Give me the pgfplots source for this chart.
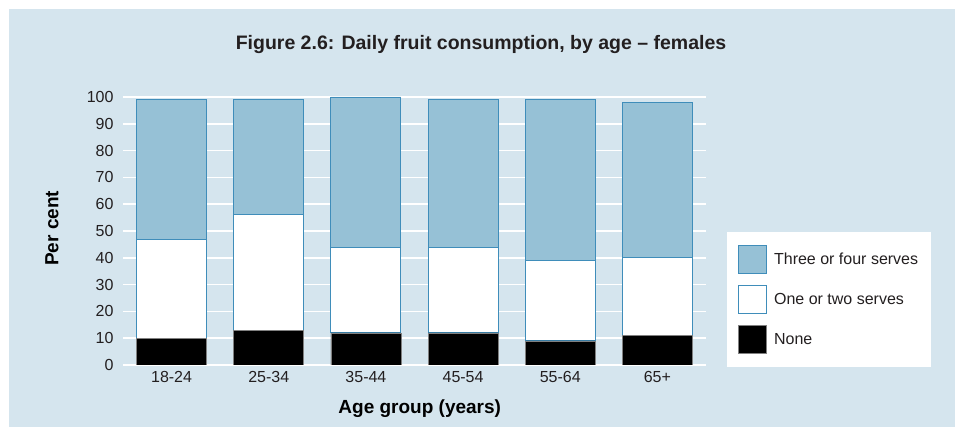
\documentclass[border=0pt]{standalone}
\usepackage{fontspec}
\setmainfont{Liberation Sans}
\usepackage{pgfplots}
\pgfplotsset{compat=1.18}
\definecolor{panel}{HTML}{D5E5EE}
\definecolor{barblue}{HTML}{96C1D6}
\definecolor{edgeblue}{HTML}{3F8DBA}
\definecolor{txt}{HTML}{231F20}
\pgfplotstableread{
x none onetwo threefour
0 10 37 52
1 13 43 43
2 12 32 56
3 12 32 55
4 9 30 60
5 11 29 58
}\datatable
\begin{document}
\begin{tikzpicture}[x=1pt,y=1pt]
\fill[panel] (9,0) rectangle (955,418);
\path[use as bounding box] (0,0) rectangle (955,427);
\node[font=\bfseries\fontsize{19.5}{22}\selectfont, text=txt] at (481,382) {Figure 2.6: Daily fruit consumption, by age – females};
\begin{axis}[
  at={(123pt,62pt)}, anchor=south west,
  width=583pt, height=268pt, scale only axis,
  ybar stacked, bar width=0.72,
  xmin=-0.5, xmax=5.5, ymin=0, ymax=100,
  xtick=data, xticklabels={18-24,25-34,35-44,45-54,55-64,65+},
  ytick={0,10,...,100},
  axis line style={draw=none},
  major tick length=0pt,
  ymajorgrids, grid style={white, line width=1.6pt},
  /pgf/number format/assume math mode=true,
  tick label style={font=\fontsize{16}{19}\selectfont, text=txt},
  xticklabel style={yshift=-3pt},
  yticklabel style={xshift=-6pt},
  ylabel={Per cent}, xlabel={Age group (years)},
  label style={font=\bfseries\fontsize{19}{22}\selectfont, text=black},
  ylabel style={at={(axis description cs:-0.122,0.51)}, anchor=center, rotate=0},
  xlabel style={at={(axis description cs:0.509,-0.164)}, anchor=center},
  reverse legend,
  legend style={at={(axis description cs:1.036,0.496)}, anchor=north west,
    draw=none, fill=white, inner xsep=11pt, inner ysep=13pt,
    font=\fontsize{16}{19}\selectfont, text=txt, row sep=11pt, column sep=5pt,
    legend cell align=left},
  legend image code/.code={\draw[#1] (0pt,-14pt) rectangle (28pt,14pt);},
]
\addplot[fill=black, draw=gray, line width=0.6pt] table[x=x,y=none] \datatable;
\addlegendentry{None}
\addplot[fill=white, draw=edgeblue, line width=0.9pt] table[x=x,y=onetwo] \datatable;
\addlegendentry{One or two serves}
\addplot[fill=barblue, draw=edgeblue, line width=0.9pt] table[x=x,y=threefour] \datatable;
\addlegendentry{Three or four serves}
\end{axis}
\end{tikzpicture}
\end{document}
